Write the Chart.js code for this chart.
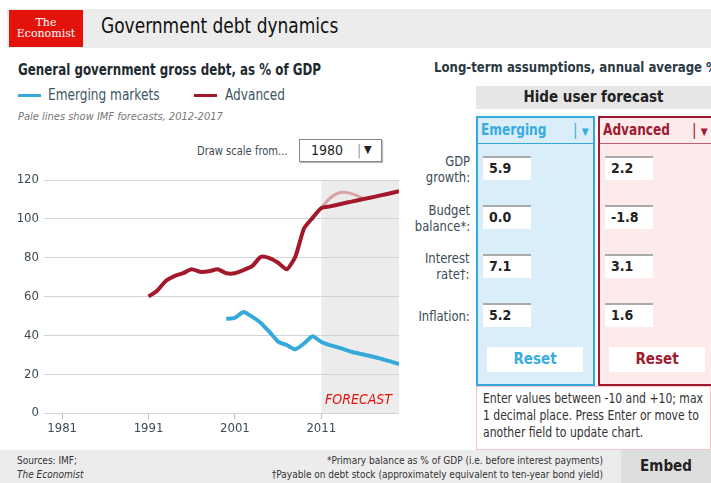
<!DOCTYPE html>
<html>
<head>
<meta charset="utf-8">
<script src="https://cdn.jsdelivr.net/npm/chart.js@4"></script>
<style>
  body { margin: 0; width: 711px; height: 483px; background: #fff; overflow: hidden;
         font-family: "DejaVu Sans Condensed", sans-serif; color: #31434b; }
  .abs { position: absolute; white-space: nowrap; }
  .nl { transform-origin: left center; }
  .nr { transform-origin: right center; }
  .hdr { left: 7px; top: 9px; width: 704px; height: 39px; background: #ececec; }
  .logo { left: 9px; top: 10px; width: 74px; height: 37px; background: #e3120b; color: #fff;
          font-family: "DejaVu Serif", serif; font-size: 11px; line-height: 11px; text-align: center; }
  .title { left: 101px; top: 13px; font-size: 22px; color: #111; transform: scaleX(0.86); }
  .sub { left: 18px; top: 61px; font-size: 15px; color: #1d2a30; font-weight: bold; transform: scaleX(0.88); }
  .leg { top: 86px; font-size: 15px; color: #3d5663; transform: scaleX(0.9); }
  .legline { height: 3px; width: 23px; top: 94px; }
  .note { left: 18px; top: 110px; font-size: 11px; font-style: italic; color: #777; }
  .lbl { text-align: right; font-size: 14px; color: #3b4c55; line-height: 16px; right: 241px; transform: scaleX(0.92); }
  .col { top: 116px; height: 270px; border: 2px solid; box-sizing: border-box; }
  .colhead { height: 26px; font-size: 15px; font-weight: bold; padding: 3px 0 0 3px; box-sizing: border-box; }
  .inp { width: 48px; height: 24px; background: #fff; border-top: 2px solid #aaa; box-sizing: border-box;
         font-size: 14px; font-weight: bold; color: #222; padding: 2px 0 0 6px; }
  .reset { height: 25px; background: #fff; text-align: center; font-size: 15px; font-weight: bold; line-height: 25px; }
  .foot { font-size: 10px; color: #333; }
</style>
</head>
<body>
<div class="abs hdr"></div>
<div class="abs logo"><div style="margin-top:7px">The</div><div>Economist</div></div>
<div class="abs title nl">Government debt dynamics</div>

<div class="abs sub nl">General government gross debt, as % of GDP</div>
<div class="abs legline" style="left:18px;background:#35a9dc"></div>
<div class="abs leg nl" style="left:48px">Emerging markets</div>
<div class="abs legline" style="left:194px;background:#a3192b"></div>
<div class="abs leg nl" style="left:225px">Advanced</div>
<div class="abs note">Pale lines show IMF forecasts, 2012-2017</div>

<div class="abs nl" style="left:197px;top:143px;font-size:13px;color:#3b4c55;transform:scaleX(0.85)">Draw scale from...</div>
<div class="abs" style="left:299px;top:139px;width:83px;height:23px;border:1px solid #888;box-sizing:border-box;box-shadow:1px 1px 1px #bbb;background:#fff">
  <span class="abs" style="left:11px;top:2px;font-size:14px;color:#222">1980</span>
  <span class="abs" style="left:57px;top:2px;font-size:14px;color:#999">|</span>
  <span class="abs" style="left:64px;top:3px;font-size:11px;color:#222">&#9660;</span>
</div>

<div class="abs" style="left:0;top:165px;width:410px;height:275px">
  <canvas id="debtChart" width="410" height="275"></canvas>
</div>

<div class="abs nl" style="left:434px;top:59px;font-size:14.5px;font-weight:bold;color:#2b3a42;transform:scaleX(0.9)">Long-term assumptions, annual average %</div>
<div class="abs" style="left:476px;top:86px;width:235px;height:23px;background:#e6e6e6;text-align:center;font-size:15px;font-weight:bold;color:#222;line-height:23px">Hide user forecast</div>

<div class="abs col" style="left:476px;width:119px;border-color:#35a9dc;background:#d9eef9">
  <div class="colhead" style="border-bottom:1px solid #35a9dc;color:#38acdf"><span style="display:inline-block;transform:scaleX(0.9);transform-origin:left">Emerging</span><span style="position:absolute;left:95px;top:3px;font-weight:normal">| <span style="font-size:10px">&#9660;</span></span></div>
</div>
<div class="abs col" style="left:598px;width:116px;border-color:#9e1b32;background:#fdeaeb">
  <div class="colhead" style="border-bottom:1px solid #c06070;color:#9e1b32"><span style="display:inline-block;transform:scaleX(0.9);transform-origin:left">Advanced</span><span style="position:absolute;left:92px;top:3px;font-weight:normal">| <span style="font-size:10px">&#9660;</span></span></div>
</div>

<div class="abs lbl nr" style="top:153px">GDP<br>growth:</div>
<div class="abs lbl nr" style="top:202px">Budget<br>balance*:</div>
<div class="abs lbl nr" style="top:250px">Interest<br>rate&dagger;:</div>
<div class="abs lbl nr" style="top:308px">Inflation:</div>

<div id="inputs"></div>

<div class="abs reset" style="left:487px;top:347px;width:96px;color:#38acdf">Reset</div>
<div class="abs reset" style="left:609px;top:347px;width:96px;color:#9e1b32">Reset</div>

<div class="abs" style="left:476px;top:386px;width:235px;height:64px;border:1px solid #f5c6c8;box-sizing:border-box;background:#fff"></div>
<div class="abs nl" style="left:483px;top:390px;font-size:14px;color:#333;line-height:17px;transform:scaleX(0.86)">Enter values between -10 and +10; max<br>1 decimal place. Press Enter or move to<br>another field to update chart.</div>

<div class="abs" style="left:0;top:450px;width:711px;height:33px;background:#ececec"></div>
<div class="abs foot" style="left:17px;top:455px">Sources: IMF;</div>
<div class="abs foot" style="left:17px;top:469px;font-style:italic">The Economist</div>
<div class="abs foot nr" style="right:108px;top:455px;text-align:right">*Primary balance as % of GDP (i.e. before interest payments)</div>
<div class="abs foot nr" style="right:108px;top:469px;text-align:right">&dagger;Payable on debt stock (approximately equivalent to ten-year bond yield)</div>
<div class="abs" style="left:621px;top:450px;width:90px;height:33px;background:#dedede;text-align:center;line-height:33px;font-size:15px;font-weight:bold;color:#222">Embed</div>

<script>
const FONT = '"DejaVu Sans Condensed", sans-serif';

// DATA
const advancedYears = [1991, 1992, 1993, 1994, 1995, 1996, 1997, 1998, 1999, 2000,
  2001, 2002, 2003, 2004, 2005, 2006, 2007, 2008, 2009, 2010,
  2011, 2012, 2013, 2014, 2015, 2016, 2017, 2018, 2019, 2020];
const advancedDebt = [60, 63, 68, 70.5, 72, 74, 72.7, 73, 74, 72,
  72, 73.6, 75.6, 80.4, 79.8, 77.4, 74, 80.5, 95, 100.5,
  105.5, 106.4, 107.4, 108.4, 109.3, 110.3, 111.2, 112.2, 113.2, 114.2];

const imfYears = [2011, 2012, 2013, 2014, 2015, 2016, 2017];
const imfAdvancedDebt = [105.5, 110.6, 113.3, 113.5, 112.2, 110.4, 111.2];

const emergingYears = [2000, 2001, 2002, 2003, 2004, 2005, 2006, 2007, 2008, 2009,
  2010, 2011, 2012, 2013, 2014, 2015, 2016, 2017, 2018, 2019, 2020];
const emergingDebt = [48.5, 49, 52, 49.5, 46.4, 41.8, 36.8, 35, 32.8, 35.8,
  39.5, 36.6, 35, 33.7, 32.3, 31, 30, 29, 27.8, 26.6, 25.2];

const xTickYears = [1981, 1991, 2001, 2011];
const forecastStart = 2011;

const assumptionKeys = ["GDP growth", "Budget balance", "Interest rate", "Inflation"];
const emergingAssumptions = ["5.9", "0.0", "7.1", "5.2"];
const advancedAssumptions = ["2.2", "-1.8", "3.1", "1.6"];

// input boxes
const inputTops = [156, 205, 254, 303];
let html = '';
assumptionKeys.forEach((k, i) => {
  html += `<div class="abs inp" style="left:483px;top:${inputTops[i]}px">${emergingAssumptions[i]}</div>`;
  html += `<div class="abs inp" style="left:605px;top:${inputTops[i]}px">${advancedAssumptions[i]}</div>`;
});
document.getElementById('inputs').innerHTML = html;

const toPoints = (xs, ys) => xs.map((x, i) => ({ x: x, y: ys[i] }));

const forecastShade = {
  id: 'forecastShade',
  beforeDraw(chart) {
    const { ctx, chartArea, scales } = chart;
    const x0 = scales.x.getPixelForValue(forecastStart);
    const y0 = scales.y.getPixelForValue(120);
    const y1 = scales.y.getPixelForValue(0);
    ctx.save();
    ctx.fillStyle = '#ececec';
    ctx.fillRect(x0, y0, chartArea.right - x0, y1 - y0);
    ctx.restore();
  },
  afterDraw(chart) {
    const { ctx, chartArea, scales } = chart;
    ctx.save();
    ctx.fillStyle = '#e3120b';
    ctx.font = 'italic 14px ' + FONT;
    ctx.textAlign = 'right';
    ctx.textBaseline = 'alphabetic';
    ctx.fillText('FORECAST', chartArea.right - 7, scales.y.getPixelForValue(0) - 9);
    ctx.restore();
  }
};

const chart = new Chart(document.getElementById('debtChart').getContext('2d'), {
  type: 'line',
  data: {
    datasets: [
      {
        label: 'Advanced',
        data: toPoints(advancedYears, advancedDebt),
        borderColor: '#a3192b',
        borderWidth: 4,
        pointRadius: 0,
        tension: 0.2,
        order: 0
      },
      {
        label: 'Emerging markets',
        data: toPoints(emergingYears, emergingDebt),
        borderColor: '#35a9dc',
        borderWidth: 4,
        pointRadius: 0,
        tension: 0.2,
        order: 1
      },
      {
        label: 'IMF forecast (Advanced)',
        data: toPoints(imfYears, imfAdvancedDebt),
        borderColor: '#dba3a6',
        borderWidth: 3,
        pointRadius: 0,
        tension: 0.4,
        order: 2
      }
    ]
  },
  options: {
    responsive: false,
    animation: false,
    layout: { padding: { top: 15, right: 11, left: 0, bottom: 0 } },
    plugins: { legend: { display: false }, tooltip: { enabled: false } },
    scales: {
      x: {
        type: 'linear',
        min: 1978.9,
        max: 2020,
        afterBuildTicks: (axis) => { axis.ticks = xTickYears.map(v => ({ value: v })); },
        afterFit: (axis) => { axis.height = 27; },
        border: { display: false },
        grid: { drawOnChartArea: false, drawTicks: true, tickLength: 6, color: '#b5bfc5' },
        ticks: { color: '#3b4c55', font: { family: FONT, size: 13 }, padding: 2, callback: v => String(v) }
      },
      y: {
        min: 0,
        max: 120,
        afterFit: (axis) => { axis.width = 44; },
        border: { display: false },
        grid: { color: '#cdd5da', drawTicks: false },
        ticks: { stepSize: 20, color: '#3b4c55', font: { family: FONT, size: 13 }, padding: 5 }
      }
    }
  },
  plugins: [forecastShade]
});
</script>
</body>
</html>
